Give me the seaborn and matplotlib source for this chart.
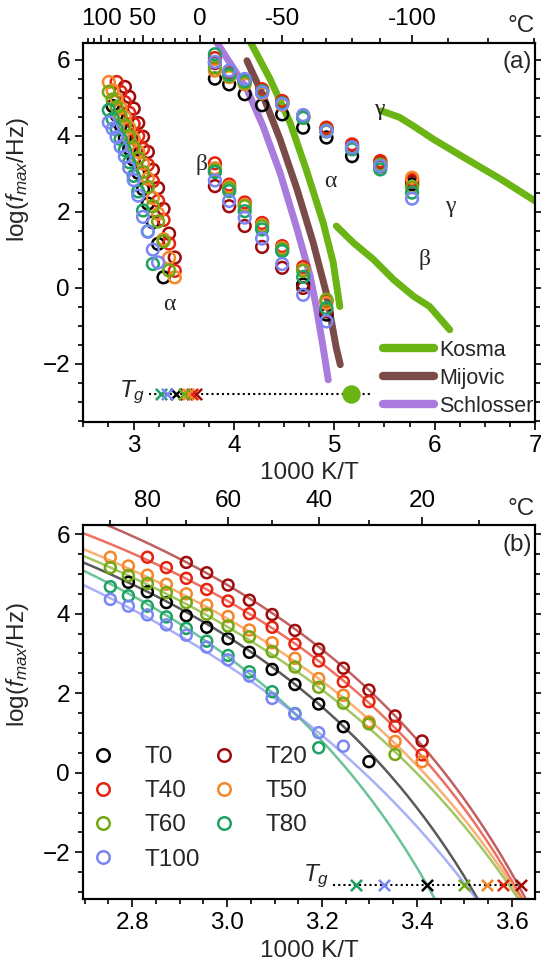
import numpy as np
import pandas as pd
import matplotlib
matplotlib.use("Agg")
import matplotlib.pyplot as plt
import seaborn as sns
from matplotlib.lines import Line2D
from matplotlib.ticker import MultipleLocator

sns.set_theme(style="ticks")
plt.rcParams["font.family"] = ["Liberation Sans", "DejaVu Sans"]
plt.rcParams["mathtext.fontset"] = "custom"
plt.rcParams["mathtext.rm"] = "Liberation Sans"
plt.rcParams["mathtext.it"] = "Liberation Sans:italic"
plt.rcParams["axes.edgecolor"] = "black"
plt.rcParams["xtick.color"] = "black"
plt.rcParams["ytick.color"] = "black"

nan = np.nan
series = ["T0", "T20", "T40", "T50", "T60", "T80", "T100"]
colors = ["#000000", "#9E0B0B", "#E4230F", "#F5862A", "#72A812", "#1DA263", "#7A86F5"]

# ---- alpha relaxation (1000 K/T at 90 ... 20 degC, 5 degC steps)
alpha_x = [2.754, 2.792, 2.832, 2.872, 2.914, 2.957, 3.002, 3.047, 3.095,
           3.143, 3.193, 3.245, 3.299, 3.354, 3.411]
alpha_T0 = [nan, 4.79, 4.55, 4.28, 3.95, 3.66, 3.37, 3.03, 2.60, 2.22, 1.73, 1.16, 0.28, nan, nan]
alpha_T20 = [nan, nan, nan, nan, 5.29, 5.03, 4.72, 4.34, 3.98, 3.58, 3.11, 2.63, 2.08, 1.43, 0.80]
alpha_T40 = [nan, nan, 5.42, 5.16, 4.89, 4.61, 4.32, 4.00, 3.66, 3.24, 2.81, 2.29, 1.79, 1.17, 0.45]
alpha_T50 = [5.42, 5.20, 4.97, 4.74, 4.50, 4.22, 3.93, 3.59, 3.27, 2.88, 2.37, 1.95, 1.28, 0.79, 0.28]
alpha_T60 = [5.16, 4.96, 4.76, 4.53, 4.28, 3.99, 3.69, 3.42, 3.05, 2.66, 2.15, 1.75, 1.23, 0.46, nan]
alpha_T80 = [4.68, 4.45, 4.19, 3.92, 3.63, 3.31, 2.95, 2.54, 2.04, 1.49, 0.63, nan, nan, nan, nan]
alpha_T100 = [4.36, 4.19, 3.97, 3.72, 3.46, 3.16, 2.84, 2.43, 1.87, 1.48, 1.01, 0.67, nan, nan, nan]
alpha_y = [alpha_T0, alpha_T20, alpha_T40, alpha_T50, alpha_T60, alpha_T80, alpha_T100]

# ---- low-temperature process (1000 K/T at -10 ... -100 degC)
low_x = [3.811, 3.953, 4.108, 4.281, 4.481, 4.690, 4.922, 5.177, 5.458, 5.775]
up_T0 = [5.51, 5.36, 5.10, 4.81, 4.57, 4.22, 3.96, 3.47, 3.20, 2.73]
up_T20 = [5.92, 5.62, 5.42, 5.20, 4.90, 4.50, 4.20, 3.75, 3.30, 2.80]
up_T40 = [6.05, 5.65, 5.45, 5.23, 4.92, 4.52, 4.22, 3.78, 3.34, 2.85]
up_T50 = [5.72, 5.55, 5.36, 5.12, 4.82, 4.48, 4.12, 3.68, 3.24, 2.90]
up_T60 = [5.80, 5.58, 5.40, 5.15, 4.85, 4.50, 4.15, 3.70, 3.25, 2.65]
up_T80 = [6.15, 5.62, 5.45, 5.18, 4.86, 4.48, 4.12, 3.65, 3.12, 2.51]
up_T100 = [5.95, 5.72, 5.50, 5.15, 4.84, 4.55, 4.13, 3.70, 3.21, 2.35]
up_y = [up_T0, up_T20, up_T40, up_T50, up_T60, up_T80, up_T100]

beta_T0 = [nan, nan, nan, nan, nan, 0.09, -0.70]
beta_T20 = [2.68, 2.15, 1.63, 1.08, 0.53, 0.00, -0.62]
beta_T40 = [3.28, 2.72, 2.25, 1.71, 1.10, 0.55, -0.35]
beta_T50 = [3.15, 2.66, 2.18, 1.65, 1.05, 0.48, -0.40]
beta_T60 = [3.10, 2.62, 2.15, 1.62, 1.02, 0.45, -0.31]
beta_T80 = [3.05, 2.55, 2.02, 1.54, 0.97, 0.29, -0.53]
beta_T100 = [2.83, 2.29, 1.85, 1.30, 0.63, -0.18, -0.88]
beta_y = [beta_T0, beta_T20, beta_T40, beta_T50, beta_T60, beta_T80, beta_T100]

# ---- VFT fit parameters (log f = A - B/(T - T_V)), panel (b)
fit_A = [10.36, 11.47, 10.89, 10.92, 11.04, 10.59, 11.32]
fit_B = [708.3, 722.3, 704.3, 801.9, 865.7, 733.3, 1054.6]
fit_TV = [231.1, 226.2, 226.0, 219.4, 215.8, 237.6, 210.9]

# ---- glass transition (1000 K/T)
tg_x = [3.421, 3.620, 3.581, 3.547, 3.500, 3.272, 3.331]
tg_lit_x = 5.17

# ---- literature traces
kosma_a_x = [4.137, 4.17, 4.36, 4.56, 4.72, 4.89, 4.99, 5.055]
kosma_a_y = [6.60, 6.44, 5.50, 4.35, 3.12, 1.71, 0.66, -0.49]
kosma_g_x = [5.47, 5.65, 5.79, 5.99, 6.32, 6.66, 7.00, 7.10]
kosma_g_y = [4.66, 4.49, 4.26, 3.91, 3.39, 2.86, 2.29, 2.12]
kosma_b_x = [5.02, 5.19, 5.39, 5.59, 5.79, 5.95, 6.15]
kosma_b_y = [1.63, 1.19, 0.75, 0.22, -0.22, -0.49, -1.10]
mijovic_x = [4.13, 4.29, 4.46, 4.63, 4.79, 4.92, 5.02, 5.06]
mijovic_y = [5.98, 5.06, 3.91, 2.59, 1.19, -0.13, -1.58, -2.02]
schlosser_x = [3.80, 3.84, 4.13, 4.29, 4.46, 4.63, 4.76, 4.82, 4.89, 4.94]
schlosser_y = [6.60, 6.42, 5.23, 4.26, 3.03, 1.54, 0.31, -0.49, -1.58, -2.42]
lit_names = ["Kosma", "Mijovic", "Schlosser"]
lit_colors = ["#6AB414", "#7A4B48", "#A97BDD"]

FS = 17.5
fig = plt.figure(figsize=(5.41, 9.68), dpi=100)
ax_a = fig.add_axes([0.154, 0.5644, 0.835, 0.3909])
ax_b = fig.add_axes([0.154, 0.0710, 0.835, 0.3862])


def circles(ax, x, y, c, s=62, lw=1.8):
    d = pd.DataFrame({"x": x, "y": y}).dropna()
    sns.scatterplot(data=d, x="x", y="y", ax=ax, color=c, facecolors="none",
                    edgecolor=c, s=s, linewidth=lw, marker="o", zorder=3,
                    legend=False)


def line(ax, x, y, c, lw, alpha=1.0, z=2):
    d = pd.DataFrame({"x": x, "y": y})
    sns.lineplot(data=d, x="x", y="y", ax=ax, color=c, lw=lw, sort=False,
                 estimator=None, alpha=alpha, zorder=z, legend=False,
                 solid_capstyle="round")


# ================= panel (a)
line(ax_a, kosma_a_x, kosma_a_y, lit_colors[0], 5)
line(ax_a, kosma_g_x, kosma_g_y, lit_colors[0], 5)
line(ax_a, kosma_b_x, kosma_b_y, lit_colors[0], 5)
line(ax_a, mijovic_x, mijovic_y, lit_colors[1], 5)
line(ax_a, schlosser_x, schlosser_y, lit_colors[2], 5)

for i, c in enumerate(colors):
    circles(ax_a, alpha_x, alpha_y[i], c, s=72)
    circles(ax_a, low_x, up_y[i], c, s=72)
    circles(ax_a, low_x[:7], beta_y[i], c, s=72)

ax_a.plot([3.15, 5.37], [-2.79, -2.79], ls=(0, (1, 1.5)), color="black", lw=1.5, zorder=2)
for i, c in enumerate(colors):
    ax_a.scatter([tg_x[i]], [-2.79], marker="x", color=c, s=65, linewidths=1.8, zorder=4)
ax_a.scatter([tg_lit_x], [-2.79], marker="o", color=lit_colors[0], s=150, zorder=4)
ax_a.text(3.12, -2.76, "$T_g$", ha="right", va="center", fontsize=FS)

serif = ["Liberation Serif", "DejaVu Serif"]
for (tx, ty, t) in [(3.36, -0.44, "α"), (3.68, 3.25, "β"), (4.96, 2.81, "α"),
                    (5.45, 4.70, "γ"), (6.15, 2.15, "γ"), (5.90, 0.75, "β")]:
    ax_a.text(tx, ty, t, ha="center", va="center", fontsize=17, family=serif)
ax_a.text(0.993, 5.94, "(a)", transform=ax_a.get_yaxis_transform(), ha="right",
          va="center", fontsize=FS)

ax_a.set_xlim(2.5, 7.0)
ax_a.set_ylim(-3.52, 6.44)
ax_a.xaxis.set_major_locator(MultipleLocator(1))
ax_a.xaxis.set_minor_locator(MultipleLocator(0.25))
ax_a.yaxis.set_major_locator(MultipleLocator(2))
ax_a.yaxis.set_minor_locator(MultipleLocator(0.5))

lit_handles = [Line2D([], [], color=c, lw=6, solid_capstyle="round") for c in lit_colors]
ax_a.legend(lit_handles, lit_names, loc="center left", bbox_to_anchor=(0.663, 0.115),
            frameon=False, fontsize=15.5, handlelength=2.4, handletextpad=0.2,
            labelspacing=0.32, borderpad=0, borderaxespad=0)

# ================= panel (b)
xs = np.linspace(2.69, 3.66, 300)
for i, c in enumerate(colors):
    yv = fit_A[i] - fit_B[i] / (1000.0 / xs - fit_TV[i])
    line(ax_b, xs, yv, c, 1.8, alpha=0.65)
for i, c in enumerate(colors):
    circles(ax_b, alpha_x, alpha_y[i], c, s=62)

ax_b.plot([3.224, 3.628], [-2.81, -2.81], ls=(0, (1, 1.5)), color="black", lw=1.5, zorder=2)
for i, c in enumerate(colors):
    ax_b.scatter([tg_x[i]], [-2.81], marker="x", color=c, s=65, linewidths=1.8, zorder=4)
ax_b.text(3.215, -2.6, "$T_g$", ha="right", va="center", fontsize=FS)
ax_b.text(0.993, 5.73, "(b)", transform=ax_b.get_yaxis_transform(), ha="right",
          va="center", fontsize=FS)

ax_b.set_xlim(2.697, 3.649)
ax_b.set_ylim(-3.18, 6.22)
ax_b.xaxis.set_major_locator(MultipleLocator(0.2))
ax_b.xaxis.set_minor_locator(MultipleLocator(0.05))
ax_b.yaxis.set_major_locator(MultipleLocator(2))
ax_b.yaxis.set_minor_locator(MultipleLocator(0.5))
ax_b.xaxis.set_major_formatter(matplotlib.ticker.FormatStrFormatter("%.1f"))

order = [0, 2, 4, 6, 1, 3, 5]
hb = [Line2D([], [], marker="o", ls="", mfc="none", mec=colors[k], mew=1.8, ms=9)
      for k in order]
ax_b.legend(hb, [series[k] for k in order], ncol=2, loc="center left",
            bbox_to_anchor=(0.016, 0.2434), frameon=False, fontsize=FS,
            handlelength=1.0, handletextpad=1.2, labelspacing=0.5,
            columnspacing=0.5, borderpad=0, borderaxespad=0)

# ================= common styling
for ax, top_major, top_minor, ylab_y in [
        (ax_a, [100, 50, 0, -50, -100], list(range(120, -140, -10)), 0.639),
        (ax_b, [80, 60, 40, 20], [90, 70, 50, 30, 10], 0.627)]:
    ax.set_xlabel("1000 K/T", fontsize=FS)
    ax.set_ylabel("log($f_{max}$/Hz)", fontsize=FS)
    ax.yaxis.set_label_coords(-0.115, ylab_y)
    for s in ax.spines.values():
        s.set_linewidth(1.5)
        s.set_visible(True)
    ax.tick_params(which="both", direction="out", right=True, top=False,
                   labelsize=FS, width=1.2)
    ax.tick_params(which="major", length=6)
    ax.tick_params(which="minor", length=3.5)
    top = ax.twiny()
    top.set_xlim(ax.get_xlim())
    lo, hi = ax.get_xlim()
    top.set_xticks([1000 / (t + 273.15) for t in top_major])
    top.set_xticklabels([str(t) for t in top_major])
    top.set_xticks([1000 / (t + 273.15) for t in top_minor
                    if lo <= 1000 / (t + 273.15) <= hi], minor=True)
    top.tick_params(which="both", direction="out", labelsize=FS, width=1.2)
    top.tick_params(which="major", length=6)
    top.tick_params(which="minor", length=3.5)
    for s in top.spines.values():
        s.set_linewidth(1.5)
    ax.text(0.969, 1.045, "°C", transform=ax.transAxes, ha="center",
            va="center", fontsize=FS)

fig.savefig("out.png", dpi=100)
